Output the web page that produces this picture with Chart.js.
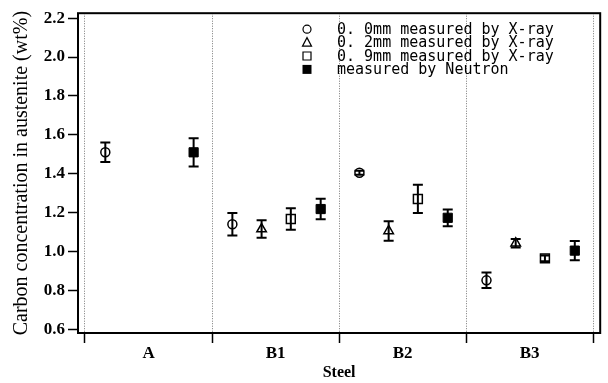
<!DOCTYPE html>
<html>
<head>
<meta charset="utf-8">
<script src="https://cdn.jsdelivr.net/npm/chart.js@4/dist/chart.umd.min.js"></script>
<style>
  html, body { margin: 0; padding: 0; background: #fff; }
</style>
</head>
<body>
<canvas id="steel-chart" width="608" height="383"></canvas>
<script>
// categories and tick labels
var steels = ['A', 'B1', 'B2', 'B3'];
var yTicks = [0.6, 0.8, 1.0, 1.2, 1.4, 1.6, 1.8, 2.0, 2.2];

// carbon concentration (wt%) and error half-widths, one entry per steel
var xray00 = [1.51, 1.14, 1.405, 0.851];
var xray00Err = [0.05, 0.058, 0.01, 0.04];
var xray02 = [null, 1.115, 1.105, 1.042];
var xray02Err = [null, 0.045, 0.05, 0.022];
var xray09 = [null, 1.167, 1.27, 0.964];
var xray09Err = [null, 0.055, 0.073, 0.015];
var neutron = [1.51, 1.218, 1.173, 1.004];
var neutronErr = [0.073, 0.053, 0.043, 0.05];

var legendLabels = [
  '0. 0mm measured by X-ray',
  '0. 2mm measured by X-ray',
  '0. 9mm measured by X-ray',
  'measured by Neutron'
];

// where each measurement sits inside its steel's slot
var slotOffset = [0.16, 0.39, 0.62, 0.855];

function buildPoints(values, errs, slot) {
  var pts = [];
  values.forEach(function (v, i) {
    if (v === null) {
      return;
    }
    pts.push({ x: i + slotOffset[slot], y: v, err: errs[i] });
  });
  return pts;
}

var serif = 'Liberation Serif, Times New Roman, serif';

var errorBars = {
  id: 'errorBars',
  beforeDatasetsDraw: function (chart) {
    var ctx = chart.ctx;
    var ys = chart.scales.y;
    ctx.save();
    ctx.strokeStyle = '#000';
    ctx.lineWidth = 2;
    chart.data.datasets.forEach(function (ds, di) {
      var meta = chart.getDatasetMeta(di);
      meta.data.forEach(function (pt, i) {
        var raw = ds.data[i];
        var top = ys.getPixelForValue(raw.y + raw.err);
        var bot = ys.getPixelForValue(raw.y - raw.err);
        ctx.beginPath();
        ctx.moveTo(pt.x, top);
        ctx.lineTo(pt.x, bot);
        ctx.moveTo(pt.x - 5, top);
        ctx.lineTo(pt.x + 5, top);
        ctx.moveTo(pt.x - 5, bot);
        ctx.lineTo(pt.x + 5, bot);
        ctx.stroke();
      });
    });
    ctx.restore();
  }
};

var frameBox = {
  id: 'frameBox',
  afterDraw: function (chart) {
    var a = chart.chartArea;
    var ctx = chart.ctx;
    ctx.save();
    ctx.strokeStyle = '#000';
    ctx.lineWidth = 2;
    ctx.strokeRect(a.left, a.top, a.right - a.left, a.bottom - a.top);
    ctx.restore();
  }
};

function drawSymbol(ctx, kind, x, y) {
  ctx.beginPath();
  if (kind === 0) {
    ctx.arc(x, y, 4, 0, Math.PI * 2);
    ctx.stroke();
  } else if (kind === 1) {
    ctx.moveTo(x, y - 5);
    ctx.lineTo(x + 4.5, y + 3.5);
    ctx.lineTo(x - 4.5, y + 3.5);
    ctx.closePath();
    ctx.stroke();
  } else if (kind === 2) {
    ctx.rect(x - 4, y - 4, 8, 8);
    ctx.stroke();
  } else {
    ctx.rect(x - 4.5, y - 4.5, 9, 9);
    ctx.fill();
  }
}

var cornerLegend = {
  id: 'cornerLegend',
  afterDraw: function (chart) {
    var a = chart.chartArea;
    var ctx = chart.ctx;
    ctx.save();
    ctx.strokeStyle = '#000';
    ctx.fillStyle = '#000';
    ctx.lineWidth = 1.2;
    ctx.font = '15px "DejaVu Sans Mono", monospace';
    ctx.textBaseline = 'middle';
    legendLabels.forEach(function (label, i) {
      var y = a.top + 16 + i * 13.4;
      drawSymbol(ctx, i, a.left + 229, y);
      ctx.fillText(label, a.left + 259, y + 1);
    });
    ctx.restore();
  }
};

var boundaryTicks = [0, 0.5, 1, 1.5, 2, 2.5, 3, 3.5, 4];

new Chart(document.getElementById('steel-chart'), {
  type: 'scatter',
  data: {
    datasets: [
      {
        label: legendLabels[0],
        data: buildPoints(xray00, xray00Err, 0),
        pointStyle: 'circle',
        pointRadius: 4.5,
        borderColor: '#000',
        backgroundColor: 'rgba(0,0,0,0)',
        borderWidth: 1.5
      },
      {
        label: legendLabels[1],
        data: buildPoints(xray02, xray02Err, 1),
        pointStyle: 'triangle',
        pointRadius: 5.5,
        borderColor: '#000',
        backgroundColor: 'rgba(0,0,0,0)',
        borderWidth: 1.5
      },
      {
        label: legendLabels[2],
        data: buildPoints(xray09, xray09Err, 2),
        pointStyle: 'rect',
        pointRadius: 6.3,
        borderColor: '#000',
        backgroundColor: 'rgba(0,0,0,0)',
        borderWidth: 1.5
      },
      {
        label: legendLabels[3],
        data: buildPoints(neutron, neutronErr, 3),
        pointStyle: 'rect',
        pointRadius: 6.5,
        borderColor: '#000',
        backgroundColor: '#000',
        borderWidth: 1
      }
    ]
  },
  options: {
    responsive: false,
    animation: false,
    devicePixelRatio: 1,
    layout: { padding: { left: 0, top: 12, right: 7, bottom: 0 } },
    plugins: {
      legend: { display: false },
      tooltip: { enabled: false }
    },
    scales: {
      x: {
        type: 'linear',
        min: -0.055,
        max: 4.055,
        afterBuildTicks: function (scale) {
          scale.ticks = boundaryTicks.map(function (v) { return { value: v }; });
        },
        afterFit: function (scale) {
          scale.height = 50;
        },
        grid: {
          color: function (c) {
            return c.tick && c.tick.value % 1 === 0 ? '#777' : 'rgba(0,0,0,0)';
          },
          tickColor: function (c) {
            return c.tick && c.tick.value % 1 === 0 ? '#000' : 'rgba(0,0,0,0)';
          },
          lineWidth: 1,
          tickLength: 10,
          tickWidth: 1.5,
          tickBorderDash: []
        },
        border: { display: false, dash: [1, 1.5] },
        ticks: {
          autoSkip: false,
          maxRotation: 0,
          padding: 0,
          color: '#000',
          font: { family: serif, size: 17, weight: 'bold' },
          callback: function (v) {
            return v % 1 === 0.5 ? steels[Math.floor(v)] : '';
          }
        },
        title: {
          display: true,
          text: 'Steel',
          color: '#000',
          font: { family: serif, size: 16, weight: 'bold' },
          padding: { top: 0, bottom: 1 }
        }
      },
      y: {
        min: 0.58,
        max: 2.226,
        afterBuildTicks: function (scale) {
          scale.ticks = yTicks.map(function (v) { return { value: v }; });
        },
        afterFit: function (scale) {
          scale.width = 78;
        },
        grid: {
          drawOnChartArea: false,
          tickLength: 10,
          tickColor: '#000',
          tickWidth: 1.5
        },
        border: { display: false },
        ticks: {
          padding: 3,
          color: '#000',
          font: { family: serif, size: 17, weight: 'bold' },
          callback: function (v) {
            return v.toFixed(1);
          }
        },
        title: {
          display: true,
          text: 'Carbon concentration in austenite (wt%)',
          color: '#000',
          font: { family: serif, size: 20 },
          padding: { top: 10, bottom: 0 }
        }
      }
    }
  },
  plugins: [errorBars, frameBox, cornerLegend]
});
</script>
</body>
</html>
